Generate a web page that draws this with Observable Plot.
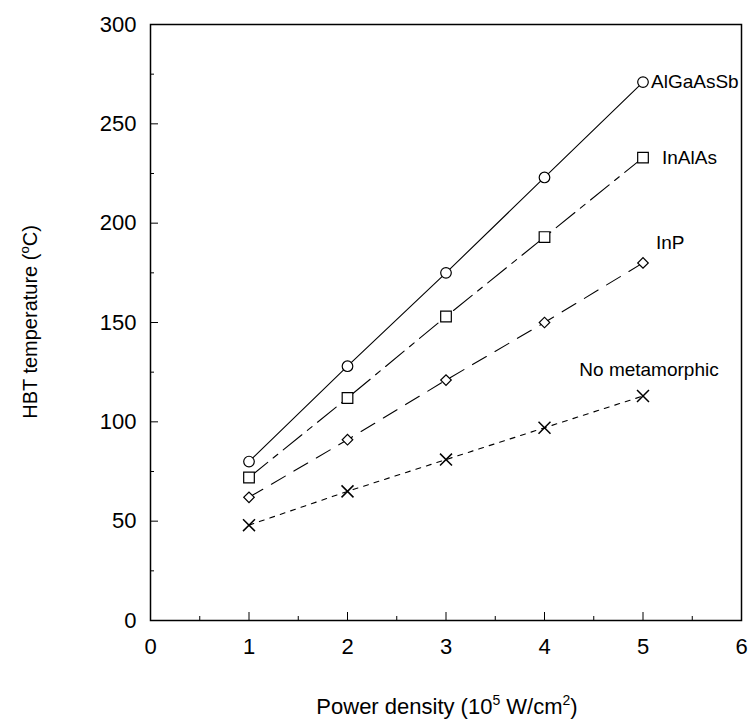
<!DOCTYPE html>
<html><head><meta charset="utf-8">
<script src="https://cdn.jsdelivr.net/npm/d3@7"></script>
<script src="https://cdn.jsdelivr.net/npm/@observablehq/plot@0.6"></script>
<style>
body{margin:0;background:#fff;}
svg{font-family:"Liberation Sans",Arial,sans-serif;}
g[aria-label="x-axis tick label"], g[aria-label="y-axis tick label"]{font-size:22px;}
</style></head><body>
<div id="chart"></div>
<script>
const power = [1, 2, 3, 4, 5];
const seriesNames = ["AlGaAsSb", "InAlAs", "InP", "No metamorphic"];
const algaassb = [80, 128, 175, 223, 271];
const inalas = [72, 112, 153, 193, 233];
const inp = [62, 91, 121, 150, 180];
const nometa = [48, 65, 81, 97, 113];
const xTicks = [0, 1, 2, 3, 4, 5, 6];
const xMinor = [0.5, 1.5, 2.5, 3.5, 4.5, 5.5];
const yTicks = [0, 50, 100, 150, 200, 250, 300];
const yMinor = [25, 75, 125, 175, 225, 275];

const values = [algaassb, inalas, inp, nometa];
const data = seriesNames.flatMap((s, i) => power.map((p, j) => ({series: s, x: p, y: values[i][j]})));
const ser = s => data.filter(d => d.series === s);
const last = seriesNames.map((s, i) => ({series: s, x: power[power.length - 1], y: values[i][power.length - 1]}));

const styles = {
  "AlGaAsSb": {dash: null},
  "InAlAs": {dash: "24,7,6,7"},
  "InP": {dash: "16,10"},
  "No metamorphic": {dash: "5,6"}
};

const chart = Plot.plot({
  width: 748, height: 719,
  marginLeft: 150, marginRight: 7, marginTop: 24, marginBottom: 99,
  style: {fontFamily: "'Liberation Sans', Arial, sans-serif", color: "#000", fontSize: "22px"},
  x: {domain: [0, 6]},
  y: {domain: [0, 300]},
  marks: [
    Plot.frame({stroke: "#000", strokeWidth: 1.5}),
    Plot.axisX({ticks: xTicks, tickSize: -8, tickPadding: 26, fontSize: 22, label: null, tickFormat: d3.format("d")}),
    Plot.axisX({ticks: xMinor, tickSize: -4, text: null, label: null}),
    Plot.axisY({ticks: yTicks, tickSize: -8, tickPadding: 22, fontSize: 22, label: null}),
    Plot.axisY({ticks: yMinor, tickSize: -4, text: null, label: null}),
    ...seriesNames.map(s => Plot.line(ser(s), {x: "x", y: "y", stroke: "#000", strokeWidth: 1.1, strokeDasharray: styles[s].dash})),
    Plot.dot(ser("AlGaAsSb"), {x: "x", y: "y", r: 5.3, stroke: "#000", fill: "#fff", strokeWidth: 1.2}),
    Plot.dot(ser("InAlAs"), {x: "x", y: "y", r: 6, symbol: "square", stroke: "#000", fill: "#fff", strokeWidth: 1.2}),
    Plot.dot(ser("InP"), {x: "x", y: "y", r: 4.2, symbol: "square", rotate: 45, stroke: "#000", fill: "#fff", strokeWidth: 1.2}),
    Plot.dot(ser("No metamorphic"), {x: "x", y: "y", r: 5.5, symbol: "times", stroke: "#000", strokeWidth: 1.5}),
    Plot.text(last.filter(d => d.series === "AlGaAsSb"), {x: "x", y: "y", text: "series", textAnchor: "start", dx: 8, fontSize: 19}),
    Plot.text(last.filter(d => d.series === "InAlAs"), {x: "x", y: "y", text: "series", textAnchor: "start", dx: 19, dy: 0, fontSize: 19}),
    Plot.text(last.filter(d => d.series === "InP"), {x: "x", y: "y", text: "series", textAnchor: "start", dx: 13, dy: -20, fontSize: 19}),
    Plot.text(last.filter(d => d.series === "No metamorphic"), {x: "x", y: "y", text: "series", textAnchor: "middle", dx: 6, dy: -26, fontSize: 19})
  ]
});
document.getElementById("chart").appendChild(chart);

// axis titles as real text inside the svg
const svg = d3.select(chart);
svg.append("text").attr("x", 447).attr("y", 714).attr("text-anchor", "middle")
  .attr("font-size", 22).attr("fill", "#000")
  .html('Power density (10<tspan dy="-9" font-size="14">5</tspan><tspan dy="9"> W/cm</tspan><tspan dy="-9" font-size="14">2</tspan><tspan dy="9">)</tspan>');
svg.append("text").attr("transform", "translate(37,322) rotate(-90)").attr("text-anchor", "middle")
  .attr("font-size", 20).attr("fill", "#000")
  .html('HBT temperature (<tspan dy="-8" font-size="13">o</tspan><tspan dy="8">C)</tspan>');
</script>
</body></html>
